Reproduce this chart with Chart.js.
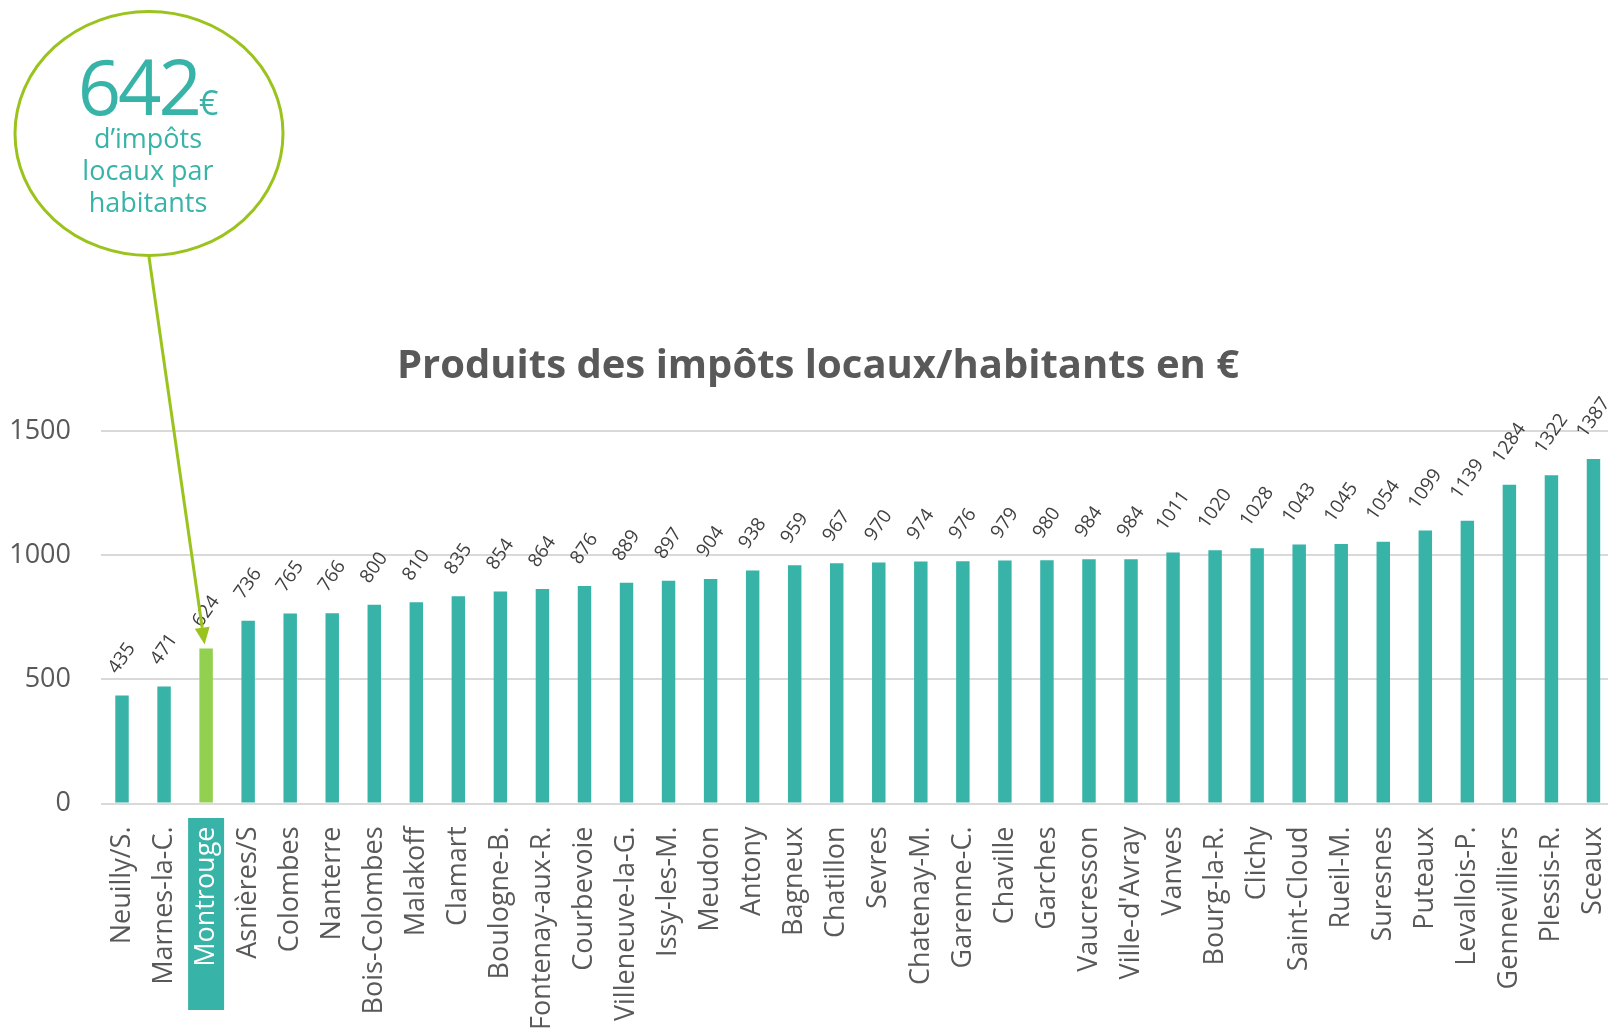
<!DOCTYPE html>
<html>
<head>
<meta charset="utf-8">
<title>Produits des impôts locaux/habitants en €</title>
<script src="https://cdn.jsdelivr.net/npm/chart.js@4.4.1/dist/chart.umd.min.js"></script>
<style>
  html, body { margin: 0; padding: 0; background: #fff; overflow: hidden; }
  #wrap { position: relative; width: 1608px; height: 1036px; overflow: hidden; }
  canvas { display: block; }
</style>
</head>
<body>
<div id="wrap"><canvas id="chart" width="1620" height="1036"></canvas></div>
<script>
const communes = [
  'Neuilly/S.', 'Marnes-la-C.', 'Montrouge', 'Asnières/S', 'Colombes', 'Nanterre',
  'Bois-Colombes', 'Malakoff', 'Clamart', 'Boulogne-B.', 'Fontenay-aux-R.', 'Courbevoie',
  'Villeneuve-la-G.', 'Issy-les-M.', 'Meudon', 'Antony', 'Bagneux', 'Chatillon',
  'Sevres', 'Chatenay-M.', 'Garenne-C.', 'Chaville', 'Garches', 'Vaucresson',
  "Ville-d'Avray", 'Vanves', 'Bourg-la-R.', 'Clichy', 'Saint-Cloud', 'Rueil-M.',
  'Suresnes', 'Puteaux', 'Levallois-P.', 'Gennevilliers', 'Plessis-R.', 'Sceaux',
];
const impotsParHabitant = [
  435, 471, 624, 736, 765, 766,
  800, 810, 835, 854, 864, 876,
  889, 897, 904, 938, 959, 967,
  970, 974, 976, 979, 980, 984,
  984, 1011, 1020, 1028, 1043, 1045,
  1054, 1099, 1139, 1284, 1322, 1387,
];
const yTicks = [0, 500, 1000, 1500];
const highlighted = 'Montrouge';
const calloutValue = '642';
const calloutLines = ['d’impôts', 'locaux par', 'habitants'];

const TEAL = '#37B3A8';
const GREEN = '#92D050';
const LIME = '#9BC31D';
const GREY_TEXT = '#595959';
const hiIndex = communes.indexOf(highlighted);

// nudge the title a little to the right, like the original
const titleShift = {
  id: 'titleShift',
  afterLayout(chart) {
    chart.titleBlock.left += 21.5;
  },
};

// teal box behind the highlighted x label (drawn before the scales)
const labelBox = {
  id: 'labelBox',
  beforeDraw(chart) {
    const { ctx } = chart;
    const x = chart.scales.x.getPixelForValue(hiIndex);
    ctx.save();
    ctx.fillStyle = TEAL;
    ctx.fillRect(x - 18, 818, 36, 192);
    ctx.restore();
  },
};

// rotated value labels above each bar
const valueLabels = {
  id: 'valueLabels',
  afterDatasetsDraw(chart) {
    const { ctx } = chart;
    const meta = chart.getDatasetMeta(0);
    const angle = 55 * Math.PI / 180;
    ctx.save();
    ctx.font = '19px "Open Sans"';
    ctx.fillStyle = '#404040';
    ctx.textAlign = 'center';
    ctx.textBaseline = 'middle';
    meta.data.forEach((bar, i) => {
      const txt = String(impotsParHabitant[i]);
      const w = ctx.measureText(txt).width;
      const h = w * Math.sin(angle) + 13 * Math.cos(angle);
      const cy = bar.y - 20 - h / 2;
      ctx.save();
      ctx.translate(bar.x, cy);
      ctx.rotate(-angle);
      ctx.fillText(txt, 0, 0);
      ctx.restore();
    });
    ctx.restore();
  },
};

// bubble with the Montrouge figure and arrow pointing to its bar
const callout = {
  id: 'callout',
  afterDraw(chart) {
    const { ctx } = chart;
    const bar = chart.getDatasetMeta(0).data[hiIndex];
    ctx.save();
    ctx.strokeStyle = LIME;
    ctx.lineWidth = 3;
    ctx.beginPath();
    ctx.ellipse(149, 133.5, 134, 122, 0, 0, Math.PI * 2);
    ctx.stroke();

    ctx.fillStyle = TEAL;
    ctx.textBaseline = 'alphabetic';
    ctx.font = '76px "Open Sans"';
    ctx.letterSpacing = '-3px';
    ctx.textAlign = 'right';
    ctx.fillText(calloutValue, 199, 115);
    ctx.letterSpacing = '0px';
    ctx.font = '34px "Open Sans"';
    ctx.textAlign = 'left';
    ctx.fillText('€', 199, 115);
    ctx.font = '27px "Open Sans"';
    ctx.textAlign = 'center';
    calloutLines.forEach((line, i) => ctx.fillText(line, 148, 148 + i * 32));

    // arrow
    const x0 = 149, y0 = 257;
    const x1 = bar.x - 1.5, y1 = bar.y - 4;
    const a = Math.atan2(y1 - y0, x1 - x0);
    const headLen = 17, headHalf = 7.5;
    const bx = x1 - headLen * Math.cos(a), by = y1 - headLen * Math.sin(a);
    ctx.strokeStyle = LIME;
    ctx.lineWidth = 3;
    ctx.beginPath();
    ctx.moveTo(x0, y0);
    ctx.lineTo(bx, by);
    ctx.stroke();
    ctx.fillStyle = LIME;
    ctx.beginPath();
    ctx.moveTo(x1, y1);
    ctx.lineTo(bx + headHalf * Math.sin(a), by - headHalf * Math.cos(a));
    ctx.lineTo(bx - headHalf * Math.sin(a), by + headHalf * Math.cos(a));
    ctx.closePath();
    ctx.fill();
    ctx.restore();
  },
};

const barColors = communes.map((c, i) => (i === hiIndex ? GREEN : TEAL));

new Chart(document.getElementById('chart'), {
  type: 'bar',
  data: {
    labels: communes,
    datasets: [{
      data: impotsParHabitant,
      backgroundColor: barColors,
      borderWidth: 0,
      categoryPercentage: 1,
      barPercentage: 0.32,
    }],
  },
  options: {
    responsive: false,
    animation: false,
    layout: { padding: { top: 343, right: 5.5, left: 0, bottom: 0 } },
    plugins: {
      legend: { display: false },
      tooltip: { enabled: false },
      title: {
        display: true,
        text: 'Produits des impôts locaux/habitants en €',
        color: GREY_TEXT,
        font: { family: 'Open Sans', size: 40, weight: 'bold' },
        padding: { top: 0, bottom: 40 },
      },
    },
    scales: {
      x: {
        grid: { display: false, drawTicks: false },
        border: { display: false },
        ticks: {
          autoSkip: false,
          minRotation: 90,
          maxRotation: 90,
          padding: 23,
          color: (c) => (c.index === hiIndex ? '#ffffff' : GREY_TEXT),
          font: { family: 'Open Sans', size: 27 },
        },
        afterFit(scale) {
          scale.height = 232.5;
          scale.paddingLeft = 0;
          scale.paddingRight = 0;
        },
      },
      y: {
        min: 0,
        max: 1500,
        afterBuildTicks(scale) {
          scale.ticks = yTicks.map((v) => ({ value: v }));
        },
        grid: { color: '#D9D9D9', lineWidth: 2, drawTicks: false },
        border: { display: false },
        ticks: {
          padding: 30,
          color: GREY_TEXT,
          font: { family: 'Open Sans', size: 27 },
          callback: (v) => String(v),
        },
        afterFit(scale) {
          scale.width = 101;
        },
      },
    },
  },
  plugins: [titleShift, labelBox, valueLabels, callout],
});
</script>
</body>
</html>
